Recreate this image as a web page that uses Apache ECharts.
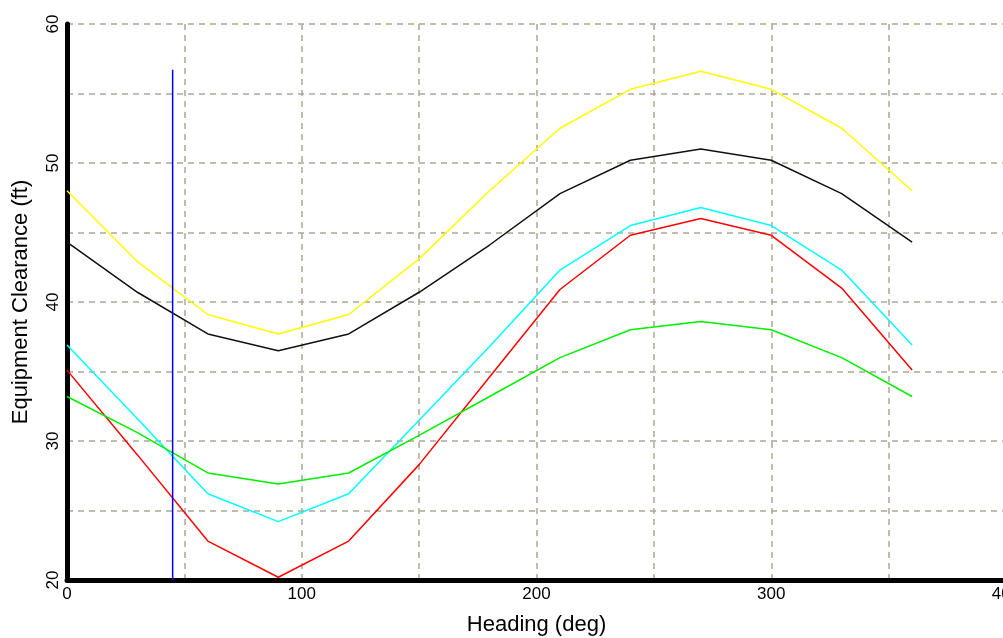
<!DOCTYPE html>
<html>
<head>
    <meta charset="UTF-8">
    <title>Equipment Clearance vs Heading</title>
    <script src="https://cdn.jsdelivr.net/npm/echarts@6/dist/echarts.min.js"></script>
    <style>
        html, body { margin: 0; padding: 0; background: #ffffff; }
        #main { width: 1003px; height: 638px; }
    </style>
</head>
<body>
<div id="main"></div>
<script type="text/javascript">
    // 航向 (deg)
    var headings = [0, 30, 60, 90, 120, 150, 180, 210, 240, 270, 300, 330, 360];
    // 各条曲线的间隙值 (ft)
    var yellowVals = [48.0, 42.9, 39.1, 37.7, 39.1, 43.1, 48.0, 52.5, 55.3, 56.6, 55.3, 52.5, 48.0];
    var blackVals  = [44.3, 40.7, 37.7, 36.5, 37.7, 40.7, 44.1, 47.8, 50.2, 51.0, 50.2, 47.8, 44.3];
    var cyanVals   = [36.9, 31.6, 26.2, 24.2, 26.2, 31.5, 36.8, 42.3, 45.5, 46.8, 45.5, 42.3, 36.9];
    var redVals    = [35.1, 29.0, 22.8, 20.2, 22.8, 28.3, 34.6, 40.9, 44.8, 46.0, 44.8, 41.0, 35.1];
    var greenVals  = [33.2, 30.6, 27.7, 26.9, 27.7, 30.4, 33.2, 36.0, 38.0, 38.6, 38.0, 36.0, 33.2];
    // 竖线 (当前航向)
    var markerX = [45, 45];
    var markerY = [20, 56.7];
    // 刻度标签
    var xTickLabels = [0, 100, 200, 300, 400];
    var yTickLabels = [20, 30, 40, 50, 60];

    function pairs(xs, ys) {
        var out = [];
        for (var i = 0; i < xs.length; i++) {
            out.push([xs[i], ys[i]]);
        }
        return out;
    }

    function lineSeries(vals, color) {
        return {
            type: 'line',
            data: pairs(headings, vals),
            showSymbol: false,
            animation: false,
            lineStyle: { color: color, width: 1.5 },
            z: 3
        };
    }

    var gridLine = { show: true, lineStyle: { color: '#aca795', width: 1.5, type: [6, 5] } };

    var myChart = echarts.init(document.getElementById('main'));
    myChart.setOption({
        backgroundColor: '#ffffff',
        grid: { left: 67, top: 24, width: 939, height: 556, outerBoundsMode: 'none', containLabel: false },
        xAxis: {
            type: 'value',
            min: 0, max: 400, interval: 50,
            name: 'Heading (deg)',
            nameLocation: 'middle',
            nameGap: 34,
            nameTextStyle: { fontFamily: 'Liberation Sans', fontSize: 22, color: '#000' },
            axisLine: { show: true, onZero: false, lineStyle: { color: '#000', width: 5 } },
            axisTick: { show: false },
            splitLine: gridLine,
            axisLabel: {
                margin: 6,
                fontFamily: 'Liberation Sans', fontSize: 17, color: '#000',
                formatter: function (v) { return xTickLabels.indexOf(v) >= 0 ? String(v) : ''; }
            }
        },
        yAxis: {
            type: 'value',
            min: 20, max: 60, interval: 5,
            name: 'Equipment Clearance (ft)',
            nameLocation: 'middle',
            nameGap: 35,
            nameTextStyle: { fontFamily: 'Liberation Sans', fontSize: 22, color: '#000' },
            axisLine: { show: true, onZero: false, lineStyle: { color: '#000', width: 5 } },
            axisTick: { show: false },
            splitLine: gridLine,
            axisLabel: {
                rotate: 90,
                margin: 5,
                fontFamily: 'Liberation Sans', fontSize: 17, color: '#000',
                formatter: function (v) { return yTickLabels.indexOf(v) >= 0 ? String(v) : ''; }
            }
        },
        series: [
            lineSeries(yellowVals, '#ffff00'),
            lineSeries(blackVals, '#111111'),
            lineSeries(cyanVals, '#00ffff'),
            lineSeries(redVals, '#ff0000'),
            lineSeries(greenVals, '#00ee00'),
            {
                type: 'line',
                data: pairs(markerX, markerY),
                showSymbol: false,
                animation: false,
                lineStyle: { color: '#0000ff', width: 1.5 },
                z: 4
            }
        ]
    });
</script>
</body>
</html>
